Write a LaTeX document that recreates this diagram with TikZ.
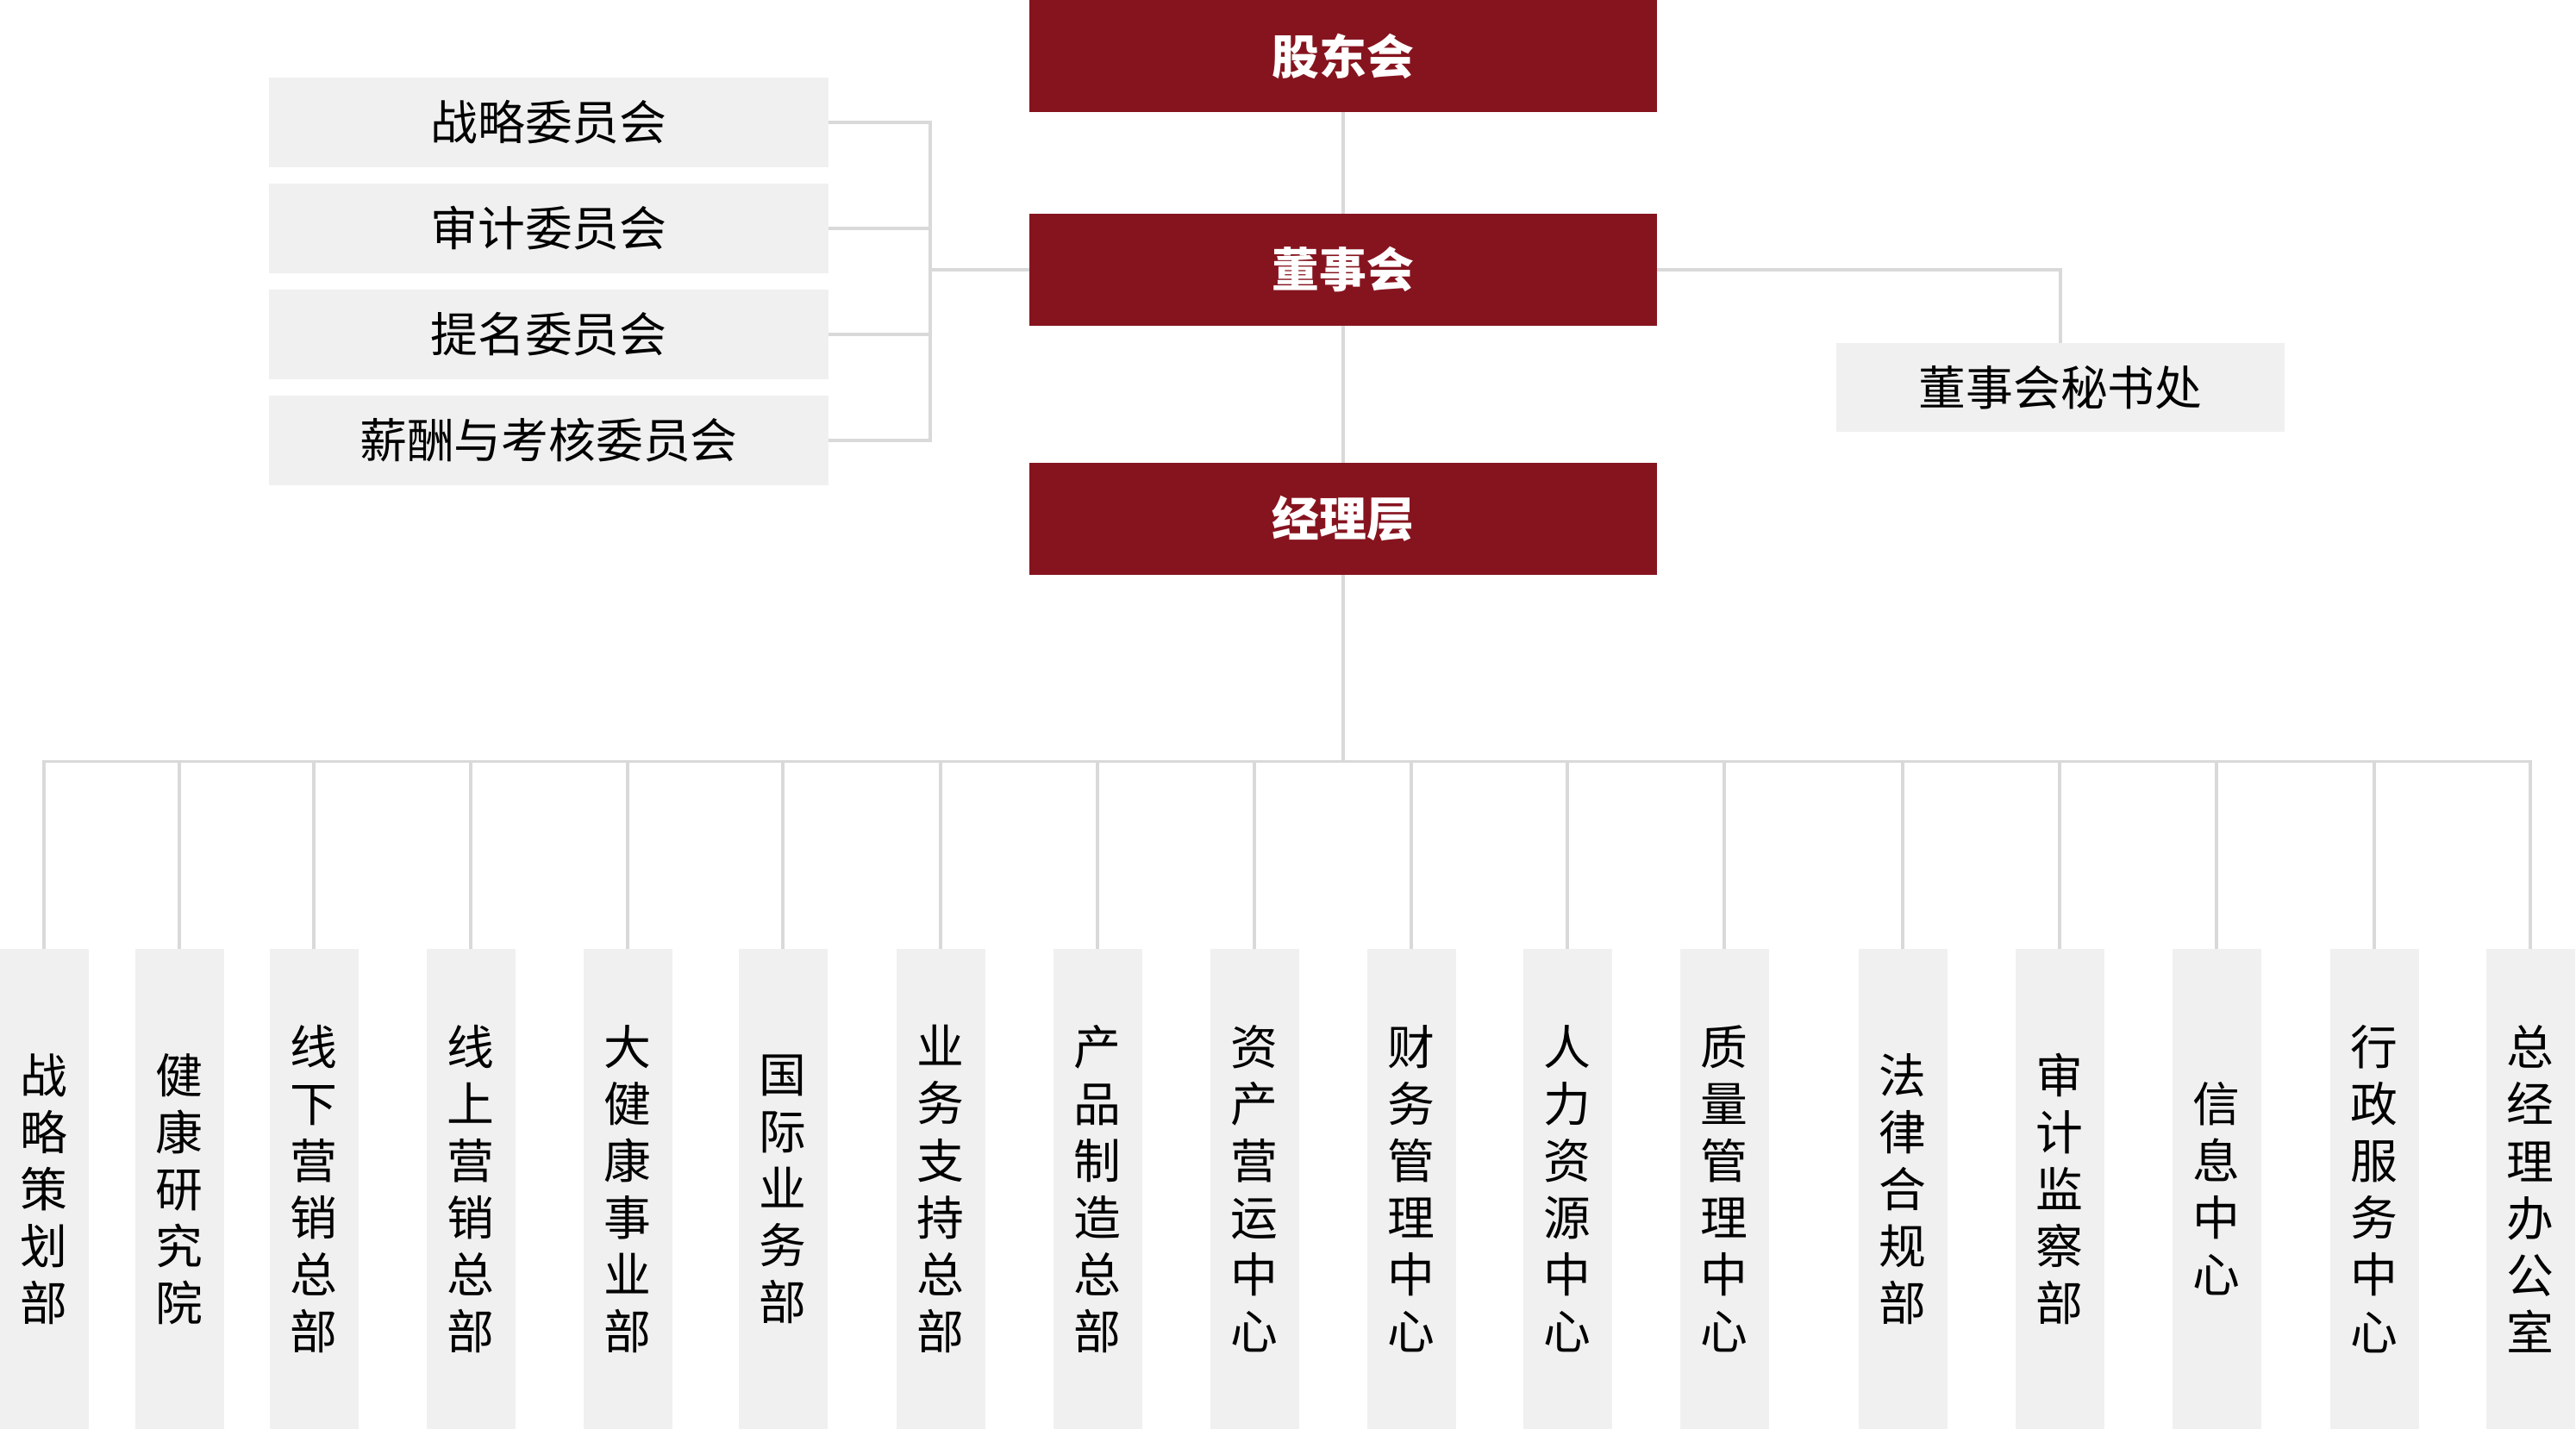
\documentclass[tikz,border=0pt]{standalone}
\usepackage{fontspec}
\setmainfont{Noto Sans CJK SC}
\usetikzlibrary{positioning}
\definecolor{boardred}{HTML}{86141F}
\definecolor{boxgray}{HTML}{F0F0F0}
\definecolor{linegray}{HTML}{D9D9D9}

\begin{document}
\begin{tikzpicture}
\tikzstyle{every node}+=[inner sep=0pt, outer sep=0pt, font=\fontsize{15.6}{18.8}\selectfont]
\tikzstyle{redbox}=[fill=boardred, text=white, minimum width=7.28cm, minimum height=1.3cm, font=\fontsize{15.6}{18.8}\selectfont\bfseries]
\tikzstyle{graybox}=[fill=boxgray, minimum height=1.04cm]
\tikzstyle{deptbox}=[fill=boxgray, minimum width=1.03cm, minimum height=5.57cm, align=center]
\tikzstyle{conn}=[draw=linegray, line width=0.04cm]
\useasboundingbox (0,0) rectangle (29.88,-16.58);
% board levels
\node [redbox] (gdh) at (15.58,-0.65) {股东会};
\node [redbox, below=1.18cm of gdh] (dsh) {董事会};
\node [redbox, below=1.59cm of dsh] (jlc) {经理层};
% committees
\node [graybox, minimum width=6.49cm] (c1) at (6.365,-1.42) {战略委员会};
\node [graybox, minimum width=6.49cm, below=0.19cm of c1] (c2) {审计委员会};
\node [graybox, minimum width=6.49cm, below=0.19cm of c2] (c3) {提名委员会};
\node [graybox, minimum width=6.49cm, below=0.19cm of c3] (c4) {薪酬与考核委员会};
\node [graybox, minimum width=5.2cm, minimum height=1.03cm] (msc) at (23.9,-4.495) {董事会秘书处};
% departments
\node [deptbox] (d1) at (0.51,-13.795) {战\\略\\策\\划\\部};
\node [deptbox] (d2) at (2.08,-13.795) {健\\康\\研\\究\\院};
\node [deptbox] (d3) at (3.64,-13.795) {线\\下\\营\\销\\总\\部};
\node [deptbox] (d4) at (5.46,-13.795) {线\\上\\营\\销\\总\\部};
\node [deptbox] (d5) at (7.28,-13.795) {大\\健\\康\\事\\业\\部};
\node [deptbox] (d6) at (9.08,-13.795) {国\\际\\业\\务\\部};
\node [deptbox] (d7) at (10.91,-13.795) {业\\务\\支\\持\\总\\部};
\node [deptbox] (d8) at (12.73,-13.795) {产\\品\\制\\造\\总\\部};
\node [deptbox] (d9) at (14.55,-13.795) {资\\产\\营\\运\\中\\心};
\node [deptbox] (d10) at (16.37,-13.795) {财\\务\\管\\理\\中\\心};
\node [deptbox] (d11) at (18.18,-13.795) {人\\力\\资\\源\\中\\心};
\node [deptbox] (d12) at (20.0,-13.795) {质\\量\\管\\理\\中\\心};
\node [deptbox] (d13) at (22.07,-13.795) {法\\律\\合\\规\\部};
\node [deptbox] (d14) at (23.89,-13.795) {审\\计\\监\\察\\部};
\node [deptbox] (d15) at (25.71,-13.795) {信\\息\\中\\心};
\node [deptbox] (d16) at (27.54,-13.795) {行\\政\\服\\务\\中\\心};
\node [deptbox] (d17) at (29.35,-13.795) {总\\经\\理\\办\\公\\室};
% connectors
\coordinate (brk) at (10.79,-3.13);
\coordinate (bus) at (0.51,-8.835);
\draw [conn] (gdh) -- (dsh);
\draw [conn] (dsh) -- (jlc);
\draw [conn] (c1.east) -| (c4.east -| brk) -- (c4.east);
\draw [conn] (c2.east) -- (c2.east -| brk);
\draw [conn] (c3.east) -- (c3.east -| brk);
\draw [conn] (dsh.west) -- (dsh.west -| brk);
\draw [conn] (dsh.east) -| (msc.north);
\draw [conn] (jlc.south) -- (jlc.south |- bus);
\draw [conn, line cap=rect] (d1.north |- bus) -- (d17.north |- bus);
\foreach \i in {1,...,17}
  \draw [conn] (d\i.north) -- (d\i.north |- bus);
\end{tikzpicture}
\end{document}
